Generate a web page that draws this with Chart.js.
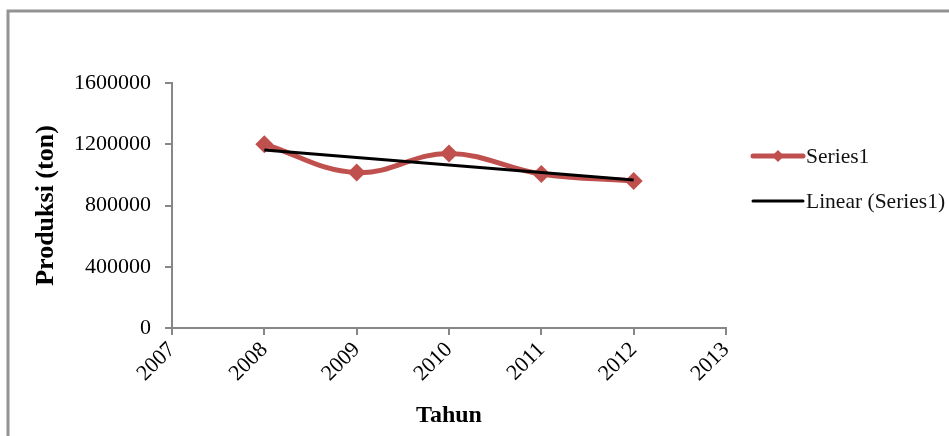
<!DOCTYPE html>
<html>
<head>
<meta charset="utf-8">
<script src="https://cdn.jsdelivr.net/npm/chart.js@4/dist/chart.umd.min.js"></script>
<style>
  html, body { margin: 0; padding: 0; background: #fff; }
  #wrap { width: 949px; height: 436px; position: relative; }
</style>
</head>
<body>
<div id="wrap"><canvas id="c" width="949" height="436"></canvas></div>
<script>
// Annual production (tons), 2008–2012
const years = [2008, 2009, 2010, 2011, 2012];
const produksi = [1200000, 1015000, 1140000, 1005000, 960000];
const yTicks = [0, 400000, 800000, 1200000, 1600000];
const xRange = [2007, 2013];
const seriesName = 'Series1';
const trendName = 'Linear (Series1)';

const SERIF = '"Liberation Serif", "Times New Roman", serif';
const RED = '#C0504D';
const AXIS = '#878787';

// Least-squares linear trend of the production series
function linearTrend(xs, ys) {
  const n = xs.length;
  const mx = xs.reduce((a, b) => a + b, 0) / n;
  const my = ys.reduce((a, b) => a + b, 0) / n;
  let sxy = 0, sxx = 0;
  for (let i = 0; i < n; i++) {
    sxy += (xs[i] - mx) * (ys[i] - my);
    sxx += (xs[i] - mx) * (xs[i] - mx);
  }
  const b = sxy / sxx;
  const a = my - b * mx;
  return xs.map(x => ({ x: x, y: a + b * x }));
}

const seriesPoints = years.map((x, i) => ({ x: x, y: produksi[i] }));
const trendPoints = linearTrend(years, produksi);
const trendEnds = [trendPoints[0], trendPoints[trendPoints.length - 1]];

// White background and the frame lines
const framePlugin = {
  id: 'frame',
  beforeDraw(chart) {
    const ctx = chart.ctx;
    ctx.save();
    ctx.fillStyle = '#fff';
    ctx.fillRect(0, 0, chart.width, chart.height);
    ctx.strokeStyle = '#939393';
    ctx.lineWidth = 3;
    ctx.beginPath();
    ctx.moveTo(8, chart.height + 5);
    ctx.lineTo(8, 11);
    ctx.lineTo(chart.width + 5, 11);
    ctx.stroke();
    ctx.restore();
  }
};

// Legend on the right: line samples with labels
const legendPlugin = {
  id: 'sideLegend',
  afterDraw(chart) {
    const ctx = chart.ctx;
    ctx.save();
    ctx.lineCap = 'round';
    // Series1 sample
    ctx.strokeStyle = RED;
    ctx.lineWidth = 5;
    ctx.beginPath();
    ctx.moveTo(753, 156);
    ctx.lineTo(803, 156);
    ctx.stroke();
    ctx.fillStyle = RED;
    ctx.beginPath();
    ctx.moveTo(778, 150);
    ctx.lineTo(784, 156);
    ctx.lineTo(778, 162);
    ctx.lineTo(772, 156);
    ctx.closePath();
    ctx.fill();
    // Trend sample
    ctx.strokeStyle = '#000';
    ctx.lineWidth = 3;
    ctx.beginPath();
    ctx.moveTo(753, 201);
    ctx.lineTo(803, 201);
    ctx.stroke();
    // Labels
    ctx.fillStyle = '#111';
    ctx.font = '21.5px ' + SERIF;
    ctx.textBaseline = 'middle';
    ctx.textAlign = 'left';
    ctx.fillText(seriesName, 806, 157);
    ctx.fillText(trendName, 806, 202);
    ctx.restore();
  }
};

new Chart(document.getElementById('c'), {
  type: 'line',
  data: {
    datasets: [
      {
        label: trendName,
        data: trendEnds,
        borderColor: '#000',
        borderWidth: 3,
        pointRadius: 0,
        tension: 0,
        order: 1
      },
      {
        label: seriesName,
        data: seriesPoints,
        borderColor: RED,
        backgroundColor: RED,
        borderWidth: 5,
        pointStyle: 'rectRot',
        pointRadius: 9,
        pointBorderWidth: 0,
        pointBackgroundColor: RED,
        tension: 0.4,
        order: 2
      }
    ]
  },
  options: {
    responsive: false,
    animation: false,
    devicePixelRatio: 1,
    layout: { padding: { top: 83, right: 223, left: 0, bottom: 0 } },
    plugins: {
      legend: { display: false },
      tooltip: { enabled: false },
      title: { display: false }
    },
    scales: {
      x: {
        type: 'linear',
        min: xRange[0],
        max: xRange[1],
        afterFit(scale) { scale.height = 108; },
        afterBuildTicks(scale) {
          const t = [];
          for (let v = xRange[0]; v <= xRange[1]; v++) t.push({ value: v });
          scale.ticks = t;
        },
        border: { display: true, color: AXIS, width: 2 },
        grid: { display: true, drawOnChartArea: false, drawTicks: true, tickLength: 7, color: AXIS, lineWidth: 2 },
        ticks: {
          minRotation: 45,
          maxRotation: 45,
          autoSkip: false,
          padding: 2,
          color: '#000',
          font: { family: SERIF, size: 22 },
          callback: v => String(v)
        },
        title: {
          display: true,
          text: 'Tahun',
          color: '#000',
          font: { family: SERIF, size: 24, weight: 'bold' },
          padding: { top: 0, bottom: 6 }
        }
      },
      y: {
        type: 'linear',
        min: yTicks[0],
        max: yTicks[yTicks.length - 1],
        afterFit(scale) { scale.width = 172; },
        afterBuildTicks(scale) {
          scale.ticks = yTicks.map(v => ({ value: v }));
        },
        border: { display: true, color: AXIS, width: 2 },
        grid: { display: true, drawOnChartArea: false, drawTicks: true, tickLength: 7, color: AXIS, lineWidth: 2 },
        ticks: {
          padding: 14,
          color: '#000',
          font: { family: SERIF, size: 22 },
          callback: v => String(v)
        },
        title: {
          display: true,
          text: 'Produksi (ton)',
          color: '#000',
          font: { family: SERIF, size: 26, weight: 'bold' },
          padding: { top: 31, bottom: 0 }
        }
      }
    }
  },
  plugins: [framePlugin, legendPlugin]
});
</script>
</body>
</html>
